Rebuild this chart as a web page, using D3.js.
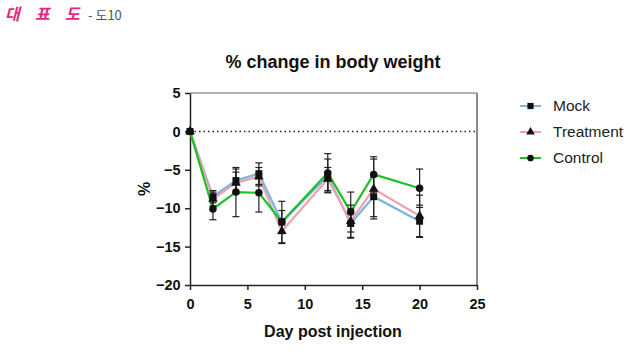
<!DOCTYPE html>
<html>
<head>
<meta charset="utf-8">
<script src="https://cdn.jsdelivr.net/npm/d3@7"></script>
<style>
  body { margin: 0; background: #fff; }
  svg { display: block; font-family: Arial, "Liberation Sans", sans-serif; }
</style>
</head>
<body>
<div id="chart"></div>
<script>
// values
let days = [0, 2, 4, 6, 8, 12, 14, 16, 20];
let mock = [0, -8.5, -6.4, -5.5, -11.8, -5.8, -12.0, -8.5, -11.7];
let mockErr = [0, 0.8, 1.5, 1.4, 1.5, 2.2, 1.9, 2.6, 2.1];
let treatment = [0, -8.8, -6.7, -5.9, -13.0, -6.2, -11.7, -7.5, -11.0];
let treatmentErr = [0, 0.9, 1.4, 1.2, 1.6, 1.5, 2.1, 3.9, 2.7];
let control = [0, -10.1, -7.9, -8.0, -11.8, -5.4, -10.5, -5.6, -7.4];
let controlErr = [0, 1.4, 3.2, 2.5, 2.7, 2.5, 2.6, 2.3, 2.5];
let xTicks = [0, 5, 10, 15, 20, 25];
let yTicks = [5, 0, -5, -10, -15, -20];

let series = [
  { name: 'Mock', values: mock, err: mockErr, color: '#7db4e2', symbol: d3.symbolSquare, size: 48 },
  { name: 'Treatment', values: treatment, err: treatmentErr, color: '#eba3ad', symbol: d3.symbolTriangle, size: 40 },
  { name: 'Control', values: control, err: controlErr, color: '#1fbf2a', symbol: d3.symbolCircle, size: 44 }
];

let width = 640, height = 362;
let svg = d3.select('#chart').append('svg')
  .attr('width', width)
  .attr('height', height);

// header
let head = svg.append('g')
  .attr('font-family', '"Noto Sans CJK KR", sans-serif');
['대', '표', '도'].forEach((ch, i) => {
  head.append('text')
    .attr('x', 5 + i * 30).attr('y', 20)
    .attr('fill', '#e4287f')
    .attr('font-weight', 'bold')
    .attr('font-style', 'italic')
    .attr('font-size', 16)
    .text(ch);
});
head.append('text')
  .attr('x', 88).attr('y', 20)
  .attr('fill', '#555')
  .attr('font-size', 13)
  .text('- 도10');

let x = d3.scaleLinear().domain([0, 25]).range([190, 477]);
let y = d3.scaleLinear().domain([-20, 5]).range([285, 93]);

// frame
svg.append('line')
  .attr('x1', x(0)).attr('x2', x(25)).attr('y1', y(5)).attr('y2', y(5))
  .attr('stroke', '#999').attr('stroke-width', 1.5);
svg.append('line')
  .attr('x1', x(25)).attr('x2', x(25)).attr('y1', y(5)).attr('y2', y(-20))
  .attr('stroke', '#666').attr('stroke-width', 1.5);

// axes
let xAxis = svg.append('g')
  .attr('transform', `translate(0,${y(-20)})`)
  .call(d3.axisBottom(x).tickValues(xTicks).tickSize(5).tickSizeOuter(0));
let yAxis = svg.append('g')
  .attr('transform', `translate(${x(0)},0)`)
  .call(d3.axisLeft(y).tickValues(yTicks).tickSize(5).tickSizeOuter(0));

[xAxis, yAxis].forEach(g => {
  g.select('.domain').attr('stroke', '#222').attr('stroke-width', 1.5);
  g.selectAll('.tick line').attr('stroke', '#222').attr('stroke-width', 1.5);
  g.selectAll('.tick text')
    .attr('font-size', 14.5)
    .attr('font-weight', 'bold')
    .attr('font-family', 'Arial, "Liberation Sans", sans-serif')
    .attr('fill', '#111');
});
xAxis.selectAll('.tick text').attr('dy', '1.1em');
yAxis.selectAll('.tick text').attr('dx', '-0.1em');

// zero line
svg.append('line')
  .attr('x1', x(0)).attr('x2', x(25)).attr('y1', y(0)).attr('y2', y(0))
  .attr('stroke', '#222').attr('stroke-width', 1.5)
  .attr('stroke-dasharray', '1.5,3');

// title and labels
svg.append('text')
  .attr('x', 333).attr('y', 68)
  .attr('text-anchor', 'middle')
  .attr('font-size', 18).attr('font-weight', 'bold').attr('fill', '#111')
  .text('% change in body weight');
svg.append('text')
  .attr('x', 333).attr('y', 337)
  .attr('text-anchor', 'middle')
  .attr('font-size', 16).attr('font-weight', 'bold').attr('fill', '#111')
  .text('Day post injection');
svg.append('text')
  .attr('transform', `translate(150,${y(-7.5)}) rotate(-90)`)
  .attr('text-anchor', 'middle')
  .attr('font-size', 16).attr('font-weight', 'bold').attr('fill', '#111')
  .text('%');

let line = d3.line()
  .x((d, i) => x(days[i]))
  .y(d => y(d));

// lines
series.forEach(s => {
  svg.append('path')
    .attr('d', line(s.values))
    .attr('fill', 'none')
    .attr('stroke', s.color)
    .attr('stroke-width', 2.2);
});

// error bars
series.forEach(s => {
  let g = svg.append('g').attr('stroke', '#222').attr('stroke-width', 1.2);
  s.values.forEach((v, i) => {
    if (!s.err[i]) return;
    let cx = x(days[i]);
    let top = y(v + s.err[i]), bot = y(v - s.err[i]);
    g.append('line').attr('x1', cx).attr('x2', cx).attr('y1', top).attr('y2', bot);
    g.append('line').attr('x1', cx - 3.5).attr('x2', cx + 3.5).attr('y1', top).attr('y2', top);
    g.append('line').attr('x1', cx - 3.5).attr('x2', cx + 3.5).attr('y1', bot).attr('y2', bot);
  });
});

// markers
series.forEach(s => {
  svg.append('g').selectAll('path')
    .data(s.values)
    .join('path')
    .attr('transform', (d, i) => `translate(${x(days[i])},${y(d)})`)
    .attr('d', d3.symbol().type(s.symbol).size(s.size))
    .attr('fill', '#111');
});

// legend
let legend = svg.append('g');
series.forEach((s, i) => {
  let ly = 106 + i * 26;
  let g = legend.append('g').attr('transform', `translate(0,${ly})`);
  g.append('line')
    .attr('x1', 520).attr('x2', 541).attr('y1', 0).attr('y2', 0)
    .attr('stroke', s.color).attr('stroke-width', 2);
  g.append('path')
    .attr('transform', 'translate(530.5,0)')
    .attr('d', d3.symbol().type(s.symbol).size(s.size * 0.8))
    .attr('fill', '#111');
  g.append('text')
    .attr('x', 553).attr('y', 0).attr('dy', '0.35em')
    .attr('font-size', 15.5).attr('fill', '#222')
    .text(s.name);
});
</script>
</body>
</html>
